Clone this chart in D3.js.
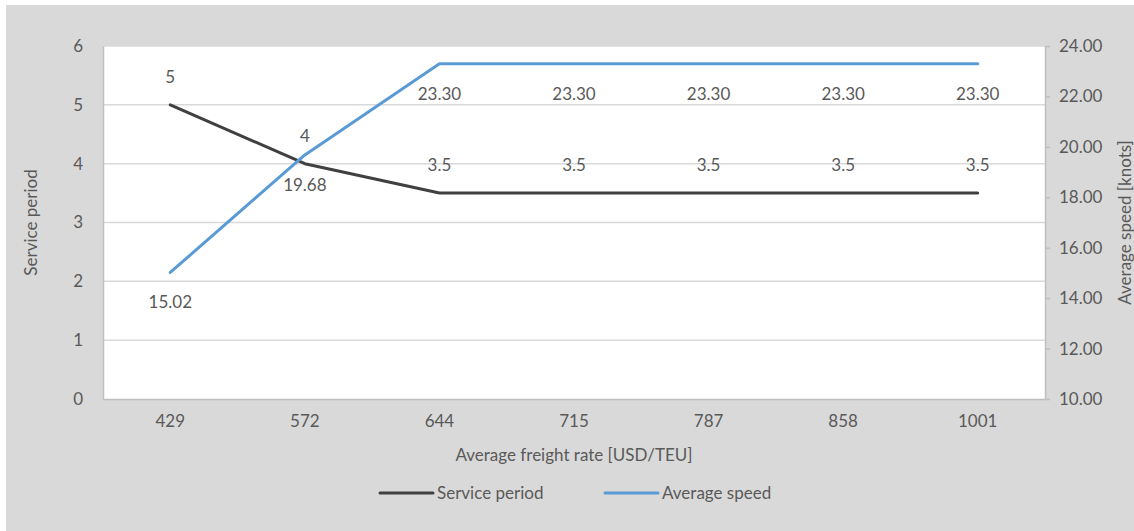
<!DOCTYPE html>
<html>
<head>
<meta charset="utf-8">
<script src="https://cdn.jsdelivr.net/npm/d3@7"></script>
<style>
  html, body { margin: 0; padding: 0; background: #fff; }
  svg text { font-family: Lato, "Open Sans", sans-serif; fill: #595959; }
</style>
</head>
<body>
<svg id="chart" width="1134" height="531"></svg>
<script>
// Freight rate categories and the two series plotted against them
const freightRates = ["429", "572", "644", "715", "787", "858", "1001"];
const servicePeriod = [5, 4, 3.5, 3.5, 3.5, 3.5, 3.5];
const averageSpeed = [15.02, 19.68, 23.30, 23.30, 23.30, 23.30, 23.30];
const leftTicks = [0, 1, 2, 3, 4, 5, 6];
const rightTicks = [10, 12, 14, 16, 18, 20, 22, 24];

const svg = d3.select("#chart");
const W = 1134, H = 531;
const plot = { left: 103, right: 1045, top: 46, bottom: 399 };
const FS = "17px";

// chart background
svg.append("rect").attr("x", 6).attr("y", 5).attr("width", W - 6).attr("height", H - 5)
  .attr("fill", "#d9d9d9");
svg.append("rect").attr("x", plot.left).attr("y", plot.top)
  .attr("width", plot.right - plot.left).attr("height", plot.bottom - plot.top)
  .attr("fill", "#ffffff");

const x = d3.scaleBand().domain(freightRates).range([plot.left, plot.right]);
const cx = d => x(d) + x.bandwidth() / 2;
const yL = d3.scaleLinear().domain([0, 6]).range([plot.bottom, plot.top]);
const yR = d3.scaleLinear().domain([10, 24]).range([plot.bottom, plot.top]);

// horizontal gridlines
svg.append("g").selectAll("line").data(leftTicks.filter(t => t > 0)).join("line")
  .attr("x1", plot.left).attr("x2", plot.right)
  .attr("y1", d => yL(d)).attr("y2", d => yL(d))
  .attr("stroke", "#d9d9d9").attr("stroke-width", 1.5);

// left axis (labels only, border line on plot edge)
const leftAxis = svg.append("g").attr("transform", `translate(${plot.left},0)`)
  .call(d3.axisLeft(yL).tickValues(leftTicks).tickSize(0).tickPadding(20).tickFormat(d3.format("d")));
leftAxis.select(".domain").attr("stroke", "#bfbfbf").attr("stroke-width", 1.5);
leftAxis.selectAll("text").style("font-size", FS).attr("fill", "#595959");

// right axis
const rightAxis = svg.append("g").attr("transform", `translate(${plot.right},0)`)
  .call(d3.axisRight(yR).tickValues(rightTicks).tickSizeInner(5).tickSizeOuter(0).tickPadding(9)
    .tickFormat(d3.format(".2f")));
rightAxis.select(".domain").attr("stroke", "#bfbfbf").attr("stroke-width", 1.5);
rightAxis.selectAll(".tick line").attr("stroke", "#bfbfbf").attr("stroke-width", 1.5);
rightAxis.selectAll("text").style("font-size", FS).attr("fill", "#595959");

// bottom axis
const bottomAxis = svg.append("g").attr("transform", `translate(0,${plot.bottom})`)
  .call(d3.axisBottom(x).tickSize(0).tickPadding(16));
bottomAxis.select(".domain").attr("stroke", "#bfbfbf").attr("stroke-width", 1.5);
bottomAxis.selectAll("text").style("font-size", FS).attr("fill", "#595959");

// axis titles
svg.append("text").attr("x", (plot.left + plot.right) / 2).attr("y", 461)
  .attr("text-anchor", "middle").style("font-size", FS).text("Average freight rate [USD/TEU]");
svg.append("text").attr("transform", `translate(37,${(plot.top + plot.bottom) / 2}) rotate(-90)`)
  .attr("text-anchor", "middle").style("font-size", FS).text("Service period");
svg.append("text").attr("transform", `translate(1131,${(plot.top + plot.bottom) / 2}) rotate(-90)`)
  .attr("text-anchor", "middle").style("font-size", FS).text("Average speed [knots]");

// series lines
const speedLine = d3.line().x((d, i) => cx(freightRates[i])).y(d => yR(d));
const periodLine = d3.line().x((d, i) => cx(freightRates[i])).y(d => yL(d));

svg.append("path").datum(servicePeriod).attr("d", periodLine)
  .attr("fill", "none").attr("stroke", "#404040").attr("stroke-width", 3)
  .attr("stroke-linecap", "round").attr("stroke-linejoin", "round");
svg.append("path").datum(averageSpeed).attr("d", speedLine)
  .attr("fill", "none").attr("stroke", "#5b9bd5").attr("stroke-width", 3)
  .attr("stroke-linecap", "round").attr("stroke-linejoin", "round");

// data labels
svg.append("g").selectAll("text").data(servicePeriod).join("text")
  .attr("x", (d, i) => cx(freightRates[i])).attr("y", d => yL(d) - 22)
  .attr("text-anchor", "middle").style("font-size", FS).attr("fill", "#404040")
  .text(d => String(d));
svg.append("g").selectAll("text").data(averageSpeed).join("text")
  .attr("x", (d, i) => cx(freightRates[i])).attr("y", d => yR(d) + 36)
  .attr("text-anchor", "middle").style("font-size", FS).attr("fill", "#404040")
  .text(d => d3.format(".2f")(d));

// legend
const legend = [
  { name: "Service period", color: "#404040", x: 380 },
  { name: "Average speed", color: "#5b9bd5", x: 605 }
];
const lg = svg.append("g").selectAll("g").data(legend).join("g")
  .attr("transform", d => `translate(${d.x},493)`);
lg.append("line").attr("x1", 0).attr("x2", 53).attr("y1", 0).attr("y2", 0)
  .attr("stroke", d => d.color).attr("stroke-width", 3).attr("stroke-linecap", "round");
lg.append("text").attr("x", 57).attr("y", 6).style("font-size", FS).text(d => d.name);
</script>
</body>
</html>
